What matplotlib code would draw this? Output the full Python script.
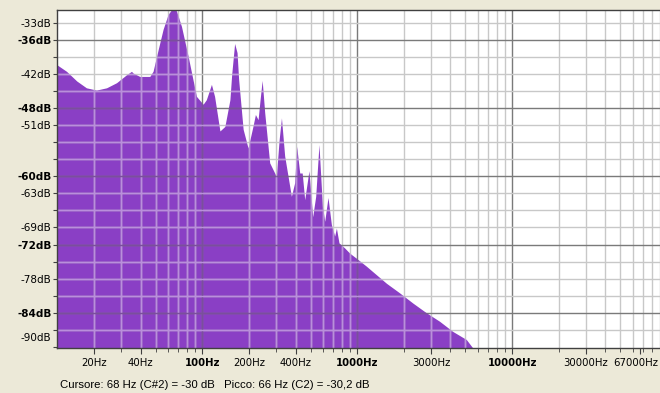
import matplotlib
matplotlib.use("Agg")
import matplotlib.pyplot as plt
import matplotlib.transforms as mtransforms

# ================== DATA ==================
# spectrum outline (Hz, dB)
freq_hz = [11.55, 13.4, 15.6, 18.0, 20.9, 24.3, 28.2, 32.7, 35.2, 36.0,
           39.8, 46.2, 48.5, 52.3, 56.3, 60.6, 66.0, 68.7, 74.0, 81.6,
           92.4, 102, 107, 115.5, 121, 131, 141, 152, 156, 163,
           169, 173, 185, 199, 214, 222, 231, 238, 245.5, 255,
           274.5, 303, 316, 327, 343, 379, 398, 410, 429, 445,
           462, 492, 520, 544, 571, 601, 622, 653, 687, 721,
           740, 769, 837, 901, 995, 1155, 1340, 1555, 1894, 2307,
           2818, 3430, 4180, 5100, 5620, 5650]
level_db = [-40.4, -41.6, -43.3, -44.5, -44.9, -44.5, -43.6, -42.2, -41.6, -41.9,
            -42.5, -42.5, -41.6, -37.8, -34.2, -31.6, -30.2, -31.0, -33.7, -38.9,
            -46.0, -47.4, -46.6, -43.9, -46.0, -52.1, -51.3, -46.6, -42.2, -36.7,
            -38.3, -43.0, -51.8, -55.1, -51.3, -49.2, -50.1, -46.6, -43.2, -48.9,
            -57.7, -60.1, -53.6, -49.8, -56.5, -63.6, -61.2, -54.8, -59.5, -59.5,
            -64.2, -59.1, -67.2, -63.6, -54.5, -65.3, -68.0, -63.8, -68.6, -70.6,
            -69.2, -71.8, -72.7, -73.6, -74.5, -75.9, -77.4, -78.9, -80.6, -82.4,
            -84.1, -85.6, -87.4, -88.8, -90.3, -95.0]

x_ticks = [20, 40, 100, 200, 400, 1000, 3000, 10000, 30000, 67000]
x_labels = ["20Hz", "40Hz", "100Hz", "200Hz", "400Hz", "1000Hz", "3000Hz",
            "10000Hz", "30000Hz", "67000Hz"]
x_bold = [100, 1000, 10000]

y_ticks = list(range(-33, -91, -3))
y_labels = {-33: "-33dB", -36: "-36dB", -42: "-42dB", -48: "-48dB",
            -51: "-51dB", -60: "-60dB", -63: "-63dB", -69: "-69dB",
            -72: "-72dB", -78: "-78dB", -84: "-84dB"}
y_bold = [-36, -48, -60, -72, -84]

status = "Cursore: 68 Hz (C#2) = -30 dB   Picco: 66 Hz (C2) = -30,2 dB"

# ================== STYLE ==================
BG = "#ece9d8"
PURPLE = "#8a3fc5"
GRID_MINOR = "#c8c8c8"
GRID_MAJOR = "#7a7a7a"
GRID_MINOR_IN = "#b98fdb"   # grid as seen over the purple fill
GRID_MAJOR_IN = "#7a4f9c"
EDGE = "#404040"
XMIN, XMAX = 11.55, 92900
YMIN, YMAX = -90.27, -30.63

fig = plt.figure(figsize=(6.6, 3.93), dpi=100, facecolor=BG)
ax = fig.add_axes([0.0864, 0.1137, 0.9167, 0.8621])
ax.set_facecolor("white")
ax.set_xscale("log")
ax.set_xlim(XMIN, XMAX)
ax.set_ylim(YMIN, YMAX)

fill = ax.fill_between(freq_hz, level_db, -100, color=PURPLE, linewidth=0, zorder=1)
fill_path = fill.get_paths()[0]


def grid_line(kind, pos, major):
    # plain line over the white part, tinted copy clipped to the fill
    draw = ax.axvline if kind == "v" else ax.axhline
    draw(pos, color=GRID_MAJOR if major else GRID_MINOR, lw=1.0, zorder=2)
    inner = draw(pos, color=GRID_MAJOR_IN if major else GRID_MINOR_IN, lw=1.0, zorder=2.5)
    inner.set_clip_path(fill_path, ax.transData)


# ---------- grid ----------
grid_x = []
for decade in [10, 100, 1000, 10000]:
    for m in range(1, 10):
        f = m * decade
        if XMIN < f < XMAX:
            grid_x.append(f)
            grid_line("v", f, m == 1)

for db in y_ticks:
    if db > YMIN + 1:
        grid_line("h", db, db in y_bold)

# ---------- ticks ----------
ax.set_xticks(x_ticks)
ax.set_xticklabels(x_labels)
ax.set_xticks(grid_x, minor=True)
ax.tick_params(axis="x", which="minor", length=3, color=EDGE, labelbottom=False)
ax.tick_params(axis="x", which="major", length=4, color=EDGE, pad=3)
for lbl, t in zip(ax.get_xticklabels(), x_ticks):
    lbl.set_fontsize(7.3)
    if t in x_bold:
        lbl.set_fontweight("bold")
    if t == x_ticks[-1]:
        # keep the last label inside the picture
        lbl.set_transform(lbl.get_transform() +
                          mtransforms.ScaledTranslation(-4 / 100, 0, fig.dpi_scale_trans))

ax.set_yticks(y_ticks)
ax.set_yticklabels([y_labels.get(t, "") for t in y_ticks])
ax.tick_params(axis="y", length=3, color=EDGE, pad=1)
for lbl, t in zip(ax.get_yticklabels(), y_ticks):
    lbl.set_fontsize(7.5)
    if t in y_bold:
        lbl.set_fontweight("bold")

# bottom label sits above its tick, like in the original
ax.annotate("-90dB", xy=(0, -90), xycoords=("axes fraction", "data"),
            xytext=(-4, 6), textcoords="offset points",
            ha="right", va="center", fontsize=7.5)

for side in ["top", "left", "bottom"]:
    ax.spines[side].set_color(EDGE)
    ax.spines[side].set_linewidth(1.0)
    ax.spines[side].set_zorder(3)
ax.spines["right"].set_visible(False)

fig.text(0.091, 0.02, status, fontsize=8.2, family="Liberation Sans",
         va="center", ha="left")

fig.savefig("out.png", dpi=100, facecolor=BG)
